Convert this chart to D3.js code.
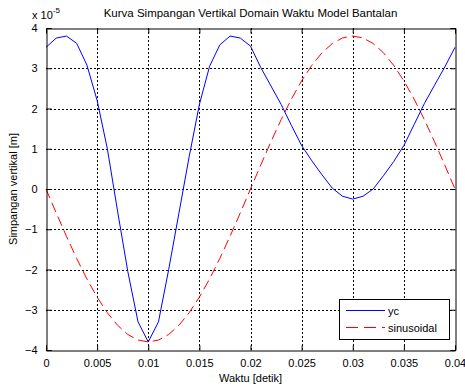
<!DOCTYPE html>
<html><head><meta charset="utf-8">
<script src="https://cdn.jsdelivr.net/npm/d3@7"></script>
<style>
html,body{margin:0;padding:0;background:#fff;}
svg{display:block;font-family:"Liberation Sans",Arial,sans-serif;}
</style></head>
<body>
<svg id="c" width="465" height="387"></svg>
<script>
const time = [0,0.001,0.002,0.003,0.004,0.005,0.006,0.007,0.008,0.009,0.010,0.011,0.012,0.013,0.014,0.015,0.016,0.017,0.018,0.019,0.020,0.021,0.022,0.023,0.024,0.025,0.026,0.027,0.028,0.029,0.030,0.031,0.032,0.033,0.034,0.035,0.036,0.037,0.038,0.039,0.040];
const yc = [3.52,3.75,3.80,3.62,3.08,2.20,1.00,-0.55,-2.05,-3.30,-3.80,-3.30,-2.00,-0.60,0.80,2.10,3.05,3.58,3.80,3.75,3.55,3.02,2.56,2.10,1.58,1.08,0.70,0.35,0.02,-0.18,-0.25,-0.18,0.00,0.33,0.68,1.08,1.60,2.12,2.58,3.03,3.52];
const sinusoidal = [0,-0.594,-1.174,-1.725,-2.234,-2.687,-3.074,-3.386,-3.614,-3.753,-3.80,-3.753,-3.614,-3.386,-3.074,-2.687,-2.234,-1.725,-1.174,-0.594,0,0.594,1.174,1.725,2.234,2.687,3.074,3.386,3.614,3.753,3.80,3.753,3.614,3.386,3.074,2.687,2.234,1.725,1.174,0.594,0];
const xTicks = [0,0.005,0.01,0.015,0.02,0.025,0.03,0.035,0.04];
const xTickLabels = ["0","0.005","0.01","0.015","0.02","0.025","0.03","0.035","0.04"];
const yTicks = [-4,-3,-2,-1,0,1,2,3,4];
const seriesNames = ["yc","sinusoidal"];
const seriesColors = ["#0000ff","#ff0000"];

const L=46, R=455, T=28, B=350;
const svg = d3.select("#c");
const x = d3.scaleLinear().domain([0,0.04]).range([L,R]);
const y = d3.scaleLinear().domain([-4,4]).range([B,T]);

// grid
const g = svg.append("g");
g.selectAll(".gx").data(xTicks.slice(1,-1)).enter().append("line")
 .attr("x1",d=>Math.round(x(d))+0.5).attr("x2",d=>Math.round(x(d))+0.5)
 .attr("y1",T).attr("y2",B).attr("stroke","#000").attr("stroke-dasharray","2,2").attr("stroke-width",1);
g.selectAll(".gy").data(yTicks.slice(1,-1)).enter().append("line")
 .attr("y1",d=>Math.round(y(d))+0.5).attr("y2",d=>Math.round(y(d))+0.5)
 .attr("x1",L).attr("x2",R).attr("stroke","#000").attr("stroke-dasharray","2,2").attr("stroke-width",1);

// lines
const line = d3.line().x((d,i)=>x(time[i])).y(d=>y(d));
svg.append("path").datum(sinusoidal).attr("d",line).attr("fill","none")
 .attr("stroke",seriesColors[1]).attr("stroke-width",1).attr("stroke-dasharray","10,5");
svg.append("path").datum(yc).attr("d",line).attr("fill","none")
 .attr("stroke",seriesColors[0]).attr("stroke-width",1);

// axes
const xa = svg.append("g").attr("transform",`translate(0,${B+0.5})`)
 .call(d3.axisBottom(x).tickValues(xTicks).tickFormat((d,i)=>xTickLabels[i]).tickSize(-5).tickPadding(9));
const xt = svg.append("g").attr("transform",`translate(0,${T+0.5})`)
 .call(d3.axisTop(x).tickValues(xTicks).tickFormat("").tickSize(-5));
const ya = svg.append("g").attr("transform",`translate(${L+0.5},0)`)
 .call(d3.axisLeft(y).tickValues(yTicks).tickFormat(d3.format("d")).tickSize(-5).tickPadding(9));
const yr = svg.append("g").attr("transform",`translate(${R+0.5},0)`)
 .call(d3.axisRight(y).tickValues(yTicks).tickFormat("").tickSize(-5));
[xa,xt,ya,yr].forEach(a=>{
  a.select(".domain").attr("stroke","#000");
  a.selectAll(".tick line").attr("stroke","#000");
  a.selectAll("text").attr("font-size","11px").attr("fill","#000").attr("font-family","Liberation Sans, Arial, sans-serif");
});
// exponent
const ex = svg.append("text").attr("x",32).attr("y",19).attr("font-size","11px").attr("fill","#000");
ex.append("tspan").text("x 10");
ex.append("tspan").attr("dy",-6).attr("font-size","8px").text("-5");

// title and labels
svg.append("text").attr("x",(L+R)/2).attr("y",17).attr("text-anchor","middle").attr("font-size","11.5px").text("Kurva Simpangan Vertikal Domain Waktu Model Bantalan");
svg.append("text").attr("x",(L+R)/2).attr("y",382).attr("text-anchor","middle").attr("font-size","11px").text("Waktu [detik]");
svg.append("text").attr("transform",`translate(17,${(T+B)/2}) rotate(-90)`).attr("text-anchor","middle").attr("font-size","11px").text("Simpangan vertikal [m]");

// legend
const lg = svg.append("g");
lg.append("rect").attr("x",339.5).attr("y",299.5).attr("width",110).attr("height",40).attr("fill","#fff").attr("stroke","#000");
seriesNames.forEach((n,i)=>{
  const yy = 310.5 + i*17;
  lg.append("line").attr("x1",346).attr("x2",385).attr("y1",yy).attr("y2",yy)
    .attr("stroke",seriesColors[i]).attr("stroke-dasharray",i===1?"12,6":null);
  lg.append("text").attr("x",388).attr("y",yy+4).attr("font-size","11px").text(n);
});
</script>
</body></html>
